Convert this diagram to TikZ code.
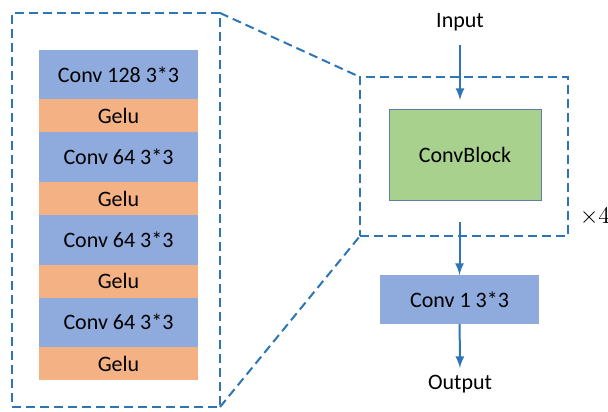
\documentclass[tikz,border=0pt]{standalone}
\usepackage{fontspec}
\setmainfont{Carlito}
\usetikzlibrary{positioning}
\definecolor{convblue}{RGB}{143,170,220}
\definecolor{geluorange}{RGB}{244,177,131}
\definecolor{blockgreen}{RGB}{169,209,142}
\definecolor{linkblue}{RGB}{46,117,182}
\definecolor{edgeblue}{RGB}{95,125,175}

\begin{document}
\begin{tikzpicture}[x=0.5pt,y=-0.5pt,
  font=\fontsize{11}{13}\selectfont,
  conv/.style={fill=convblue,minimum width=79.5pt,minimum height=24.75pt,inner sep=0pt,outer sep=0pt},
  gelu/.style={fill=geluorange,minimum width=79.5pt,minimum height=16.5pt,inner sep=0pt,outer sep=0pt},
  frame/.style={draw=linkblue,line width=1pt,dash pattern=on 4.5pt off 2.5pt},
  flow/.style={draw=linkblue,line width=1pt,-{latex}}]
\useasboundingbox (0,0) rectangle (608,411);

% Dashed frames: the zoomed stack and the repeated block
\node[frame,minimum width=104pt,minimum height=197pt,inner sep=0pt,outer sep=0pt] (zoom) at (116,210) {};
\node[frame,minimum width=104pt,minimum height=79.5pt,inner sep=0pt,outer sep=0pt] (repeat) at (464,156.5) {};
\draw[frame] (zoom.north east) -- (repeat.north west);
\draw[frame] (zoom.south east) -- (repeat.south west);

% Layers inside one ConvBlock
\node[conv] (c1) at (118.5,74.75) {Conv 128 3*3};
\node[gelu,below=0pt of c1] (g1) {Gelu};
\node[conv,below=0pt of g1] (c2) {Conv 64 3*3};
\node[gelu,below=0pt of c2] (g2) {Gelu};
\node[conv,below=0pt of g2] (c3) {Conv 64 3*3};
\node[gelu,below=0pt of c3] (g3) {Gelu};
\node[conv,below=0pt of g3] (c4) {Conv 64 3*3};
\node[gelu,below=0pt of c4] (g4) {Gelu};

% Main network
\node (input) at (460,22) {Input};
\node[fill=blockgreen,draw=edgeblue,line width=0.5pt,minimum width=76pt,minimum height=45pt,inner sep=0pt] (block) at (465,155) {ConvBlock};
\node[font=\fontsize{12.5}{14}\rmfamily] (times) at (595,217) {$\times 4$};
\node[conv,minimum width=79.5pt,minimum height=24.5pt] (out) at (459.5,299.5) {Conv 1 3*3};
\node (output) at (460,384) {Output};

\coordinate (intail) at (460,45);
\coordinate (inhead) at (460,100);
\draw[flow] (intail) -- (inhead);
\draw[flow] (repeat.south -| out) ++(0,-14) coordinate (mid) -- (out);
\draw[flow] (out) -- (output);
\end{tikzpicture}
\end{document}
